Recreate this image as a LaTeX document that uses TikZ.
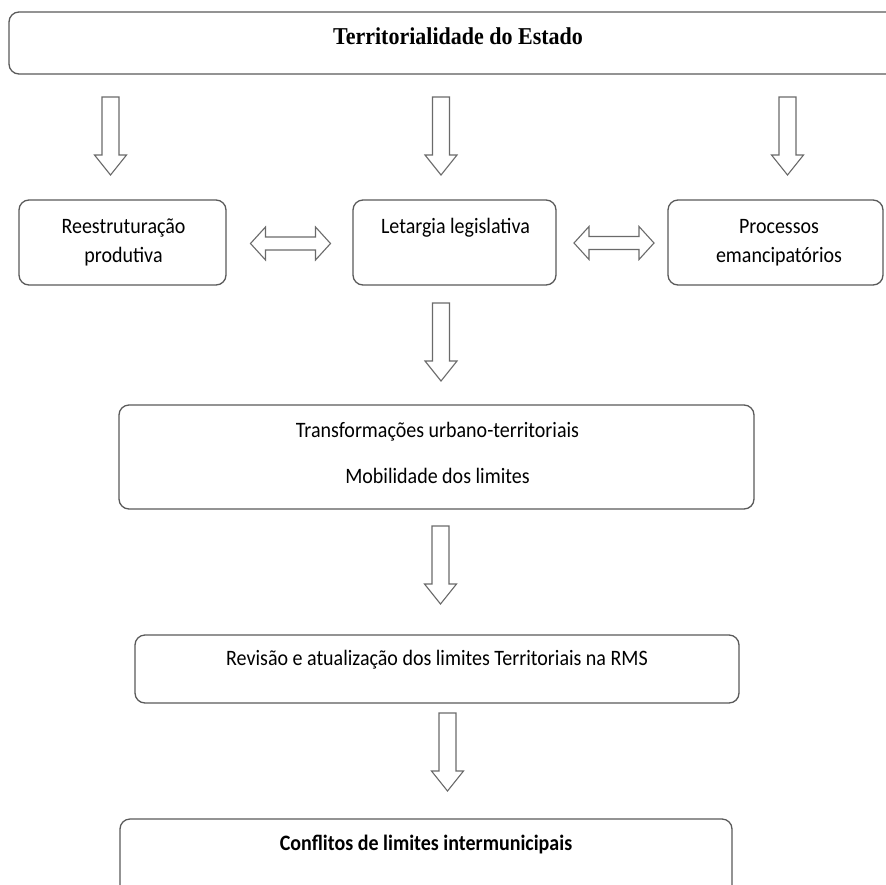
\documentclass[tikz,border=0pt]{standalone}
\usepackage{fontspec}
\setmainfont{Carlito}
\newfontfamily\titlefont{Liberation Serif}
\newcommand{\tallertext}[1]{\scalebox{1}[1.1]{#1}}
\definecolor{edge}{HTML}{5A5A5A}
\definecolor{arrowedge}{HTML}{6A6A6A}
\tikzset{
  box/.style={draw=edge, line width=1.3pt, rounded corners=10pt, rectangle, inner sep=0pt, fill=white},
  txt/.style={anchor=base, inner sep=0pt, font=\fontsize{20}{24}\selectfont, text=black},
  arrowline/.style={draw=arrowedge, line width=1.1pt, fill=white, line join=miter},
  downarrow/.pic={\path[arrowline] (-8.5,0) -- (8.5,0) -- (8.5,58) -- (16,58) -- (0,78) -- (-16,58) -- (-8.5,58) -- cycle;},
  twoarrow/.pic={\path[arrowline] (-40,0) -- (-25,-16.5) -- (-25,-6.5) -- (25,-6.5) -- (25,-16.5) -- (40,0) -- (25,16.5) -- (25,6.5) -- (-25,6.5) -- (-25,16.5) -- cycle;}
}
\begin{document}
\begin{tikzpicture}[x=1pt,y=-1pt]
\fill[white] (0,0) rectangle (886,884);
\useasboundingbox (0,0) rectangle (886,884);
% top box
\node[box, minimum width=901pt, minimum height=62pt] (estado) at (459.5,43) {};
\node[anchor=base, inner sep=0pt, font=\titlefont\bfseries\fontsize{22}{26}\selectfont] (estadotxt) at (458,44) {\tallertext{Territorialidade do Estado}};
% down arrows from top
\pic (a1) at (110.5,97) {downarrow};
\pic (a2) at (441,97) {downarrow};
\pic (a3) at (787.5,97) {downarrow};
% row boxes
\node[box, minimum width=207pt, minimum height=85pt] (reest) at (122.5,242.5) {};
\node[txt] (reest1) at (123.5,233) {\tallertext{Reestruturação}};
\node[txt] (reest2) at (123.5,262) {\tallertext{produtiva}};
\node[box, minimum width=203pt, minimum height=85pt] (letargia) at (454.5,242.5) {};
\node[txt] (letargia1) at (455.5,233) {\tallertext{Letargia legislativa}};
\node[box, minimum width=215pt, minimum height=85pt] (proc) at (775.5,242.5) {};
\node[txt] (proc1) at (779,233) {\tallertext{Processos}};
\node[txt] (proc2) at (779,262) {\tallertext{emancipatórios}};
% double arrows
\pic (d1) at (290.5,243.5) {twoarrow};
\pic (d2) at (614,243) {twoarrow};
% arrow to transformacoes
\pic (a4) at (441,303) {downarrow};
\node[box, minimum width=635pt, minimum height=104pt] (transf) at (436.5,457) {};
\node[txt] (transf1) at (437.5,437) {\tallertext{Transformações urbano-territoriais}};
\node[txt] (transf2) at (437.5,483) {\tallertext{Mobilidade dos limites}};
% arrow to revisao
\pic (a5) at (440.5,526) {downarrow};
\node[box, minimum width=604pt, minimum height=68pt] (revisao) at (437,669) {};
\node[txt] (revisao1) at (437,665) {\tallertext{Revisão e atualização dos limites Territoriais na RMS}};
% arrow to conflitos
\pic (a6) at (447.5,713) {downarrow};
\node[box, minimum width=612pt, minimum height=80pt] (conf) at (426,859) {};
\node[txt, font=\bfseries\fontsize{20}{24}\selectfont] (conf1) at (426,850) {\tallertext{Conflitos de limites intermunicipais}};
\end{tikzpicture}
\end{document}
